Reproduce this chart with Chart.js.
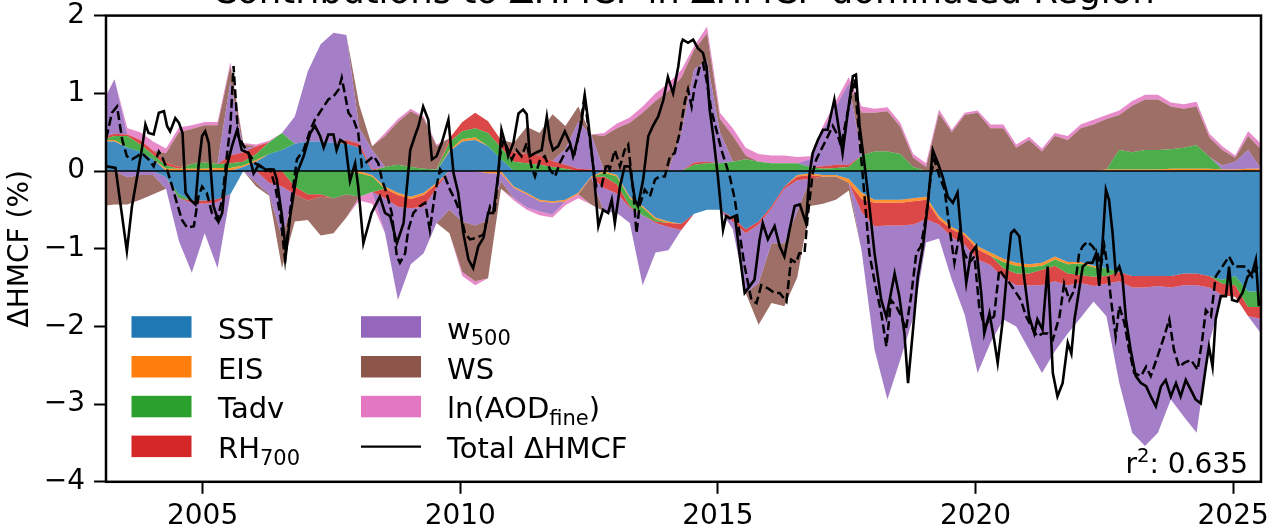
<!DOCTYPE html>
<html>
<head>
<meta charset="utf-8">
<script src="https://cdn.jsdelivr.net/npm/chart.js@4.4.1/dist/chart.umd.min.js"></script>
<style>
  html, body { margin: 0; padding: 0; background: #fff; }
</style>
</head>
<body>
<canvas id="hmcf" width="1272" height="532"></canvas>
<script>
// contributions, quarterly steps from 2003.04 to 2025.54 (decimal years)
const areaYears = Array.from({ length: 91 }, (_, k) => +(2003.04 + 0.25 * k).toFixed(2));

const sst = [0.38,0.38,0.30,0.25,0.15,-0.08,-0.30,-0.38,-0.38,-0.36,
  -0.30,0.05,0.12,0.22,0.27,0.35,0.38,0.38,0.36,0.35,
  0.30,-0.05,-0.20,-0.28,-0.33,-0.28,-0.15,0.25,0.38,0.40,
  0.32,0.15,-0.20,-0.28,-0.37,-0.39,-0.37,-0.28,-0.07,0.00,
  -0.05,-0.33,-0.45,-0.60,-0.65,-0.68,-0.55,-0.50,-0.50,-0.60,
  -0.75,-0.65,-0.45,-0.20,-0.05,-0.03,-0.05,-0.05,-0.10,-0.28,
  -0.37,-0.37,-0.37,-0.35,-0.33,-0.58,-0.72,-0.80,-0.97,-1.05,
  -1.13,-1.18,-1.20,-1.18,-1.10,-1.17,-1.17,-1.22,-1.25,-1.30,
  -1.35,-1.35,-1.35,-1.35,-1.32,-1.32,-1.35,-1.40,-1.35,-1.55,
  -1.55];
const eis = [0.02,0.02,0,0,0,0.03,0.03,0.03,0.03,0.04,
  0.04,0.02,0.02,0,0,0,0,0,0,0,
  -0.03,-0.02,-0.03,-0.03,-0.03,-0.03,-0.02,0.02,0.03,0.03,
  -0.03,-0.03,-0.02,-0.02,-0.02,-0.02,-0.02,-0.02,-0.01,-0.02,
  -0.02,-0.02,-0.02,-0.02,-0.02,0,0,0,0,0,
  0,0,0,0,-0.02,-0.02,-0.02,-0.02,-0.05,-0.08,
  -0.04,-0.04,-0.04,-0.04,-0.04,-0.04,-0.03,-0.03,-0.04,-0.04,
  -0.04,-0.04,-0.04,-0.04,-0.04,-0.03,-0.02,-0.02,0.02,0.02,
  0.02,0.02,0.02,0.03,0.03,0.03,0.03,0.02,0.02,0.03,
  0.03];
const tadv = [0,0.05,0.15,0.09,0.06,0.04,-0.05,0.06,0.08,0.05,
  0.06,0.05,0.08,0.15,0.22,-0.20,-0.30,-0.30,-0.35,-0.30,
  -0.30,-0.20,0.05,0.08,0.05,0.03,0.02,0.10,0.10,0.12,
  0.17,0.15,0.12,0.10,0.08,0.05,0.03,0,0,-0.05,
  -0.10,-0.10,-0.10,-0.03,0,0,0.08,0.10,0.10,0.12,
  0.15,0.12,0.10,0.10,0.10,0.05,0.03,0.04,0.05,0.20,
  0.25,0.25,0.22,0.05,0,0,0,0,0,0,
  -0.08,-0.10,-0.08,-0.05,-0.08,-0.12,-0.15,-0.12,-0.10,0.25,
  0.22,0.25,0.25,0.25,0.27,0.30,0.15,-0.05,-0.12,-0.20,
  -0.20];
const rh700 = [0.03,0.03,0.02,0.06,0.05,0.04,0.02,-0.03,-0.04,-0.04,
  0.10,0.12,0.10,-0.15,-0.20,-0.10,-0.08,-0.03,0,0.05,
  0.05,0.02,-0.12,-0.15,-0.12,-0.15,-0.05,0.05,0.12,0.20,
  0.15,0.10,0.12,0.12,0.12,0.08,0.05,0.03,0.02,-0.15,
  -0.12,-0.02,0,-0.02,-0.05,-0.08,0.03,0.02,0,-0.05,
  -0.05,-0.04,-0.03,-0.03,-0.05,-0.05,0.03,0.04,0.03,-0.17,
  -0.30,-0.29,-0.29,-0.30,-0.25,-0.07,-0.10,-0.12,-0.13,-0.12,
  -0.12,-0.15,-0.15,-0.20,-0.20,-0.15,-0.10,-0.12,-0.10,-0.12,
  -0.15,-0.15,-0.13,-0.15,-0.15,-0.15,-0.15,-0.15,-0.15,-0.12,
  -0.15];
const w500 = [0.42,0.70,-0.08,-0.05,-0.05,-0.15,-0.55,-0.90,-0.38,-0.85,
  0.95,0.05,-0.15,-0.15,-0.65,0.35,0.90,1.25,1.42,1.35,
  0.20,0.25,-0.45,-1.20,-0.72,-0.60,-0.45,-0.50,-0.65,-0.70,
  -0.60,-0.10,-0.13,-0.17,-0.13,-0.15,0.20,0.60,0.45,-0.30,
  -0.25,-0.20,-0.90,-0.38,-0.30,0.50,1.20,1.30,0.40,-0.10,
  -0.77,-0.75,-0.45,-0.70,-0.40,0.10,0.47,0.75,1.05,-0.50,
  -1.59,-2.24,-1.73,-1.20,-0.30,-0.18,-0.55,-0.90,-1.46,-1.00,
  -0.54,-0.53,-0.83,-1.13,-0.90,-0.62,-0.45,-0.20,-0.42,-1.31,
  -1.87,-2.04,-1.89,-1.44,-1.69,-1.90,-0.70,0.05,0.10,0.24,
  -0.19];
const ws = [-0.45,-0.43,-0.35,-0.32,-0.25,0.12,0.45,0.45,0.48,0.50,
  0.20,0.05,-0.05,-0.02,-0.40,-0.35,-0.25,-0.50,-0.45,-0.30,
  0.30,0.05,0.40,0.55,0.72,0.65,0.30,-0.30,-0.65,-0.72,
  -0.75,-0.10,0.12,0.35,0.29,0.60,0.30,0.20,-0.35,0.45,
  0.55,0.62,0.75,0.90,1.03,0.70,0.25,0.35,0.17,0.33,
  0.05,-0.54,-0.77,-0.81,-0.85,-0.35,-0.35,-0.30,-0.10,0.55,
  0.50,0.52,0.35,0.12,0.05,0.74,0.50,0.72,0.75,0.55,
  0.55,0.30,0.40,0.25,0.45,0.40,0.55,0.60,0.65,0.45,
  0.60,0.65,0.65,0.55,0.50,0.50,0.25,0.20,0.05,0.18,
  0.25];
const aodFine = [0.02,0,0.08,0.10,0.12,0.06,0.06,0.05,0.04,0.04,
  0.05,0.02,0.02,0.02,0,0,0,0,0,0,
  -0.05,-0.15,0.04,0.04,0.03,0.02,0.02,0,-0.05,-0.05,
  0,0,-0.03,-0.03,-0.05,-0.04,-0.05,-0.05,0,0.04,
  0.06,0.07,0.08,0.10,0.10,0.10,0.05,0.09,0.08,0.10,
  0.10,0.10,0.10,0.10,0.08,0.04,0.05,0.07,0.08,0.08,
  0.05,0.05,0.05,0.05,0.05,0.05,0.03,0.03,0.03,0.05,
  0.05,0.04,0.04,0.04,0.04,0.05,0.05,0.06,0.05,0.06,
  0.06,0.06,0.06,0.05,0.06,0.06,0.05,0.05,0.03,0.06,
  0.07];

// observed total (solid line)
const totalYears = [2003.13,2003.31,2003.53,2003.63,2003.73,2003.83,2003.89,2003.95,2004.05,2004.15,
  2004.25,2004.31,2004.37,2004.47,2004.54,2004.61,2004.67,2004.76,2004.86,2004.92,
  2004.99,2005.05,2005.12,2005.21,2005.31,2005.38,2005.47,2005.57,2005.67,2005.76,
  2005.89,2005.99,2006.09,2006.22,2006.38,2006.44,2006.54,2006.62,2006.70,2006.83,
  2006.96,2007.09,2007.18,2007.28,2007.35,2007.44,2007.54,2007.60,2007.67,2007.77,
  2007.86,2007.96,2008.02,2008.12,2008.28,2008.44,2008.54,2008.64,2008.77,2008.90,
  2009.03,2009.12,2009.19,2009.28,2009.38,2009.45,2009.54,2009.64,2009.77,2009.87,
  2009.96,2010.06,2010.16,2010.25,2010.35,2010.45,2010.54,2010.64,2010.74,2010.80,
  2010.87,2010.93,2011.03,2011.13,2011.22,2011.29,2011.35,2011.45,2011.58,2011.68,
  2011.74,2011.80,2011.90,2012.03,2012.13,2012.19,2012.26,2012.35,2012.42,2012.48,
  2012.58,2012.68,2012.77,2012.87,2012.94,2013.00,2013.10,2013.19,2013.29,2013.39,
  2013.45,2013.55,2013.65,2013.74,2013.84,2013.94,2014.03,2014.13,2014.23,2014.29,
  2014.32,2014.42,2014.52,2014.61,2014.71,2014.78,2014.84,2014.91,2015.00,2015.10,
  2015.16,2015.23,2015.33,2015.42,2015.52,2015.62,2015.71,2015.81,2015.87,2015.97,
  2016.10,2016.20,2016.29,2016.39,2016.49,2016.59,2016.71,2016.78,2016.84,2016.94,
  2017.04,2017.13,2017.26,2017.36,2017.42,2017.52,2017.62,2017.68,2017.75,2017.85,
  2017.94,2018.04,2018.17,2018.27,2018.43,2018.52,2018.62,2018.69,2018.78,2018.88,
  2018.98,2019.07,2019.17,2019.27,2019.36,2019.46,2019.56,2019.65,2019.72,2019.82,
  2019.91,2020.01,2020.11,2020.17,2020.27,2020.36,2020.43,2020.53,2020.62,2020.69,
  2020.75,2020.85,2020.95,2021.04,2021.14,2021.20,2021.30,2021.40,2021.50,2021.59,
  2021.69,2021.79,2021.86,2021.92,2021.98,2022.08,2022.17,2022.27,2022.34,2022.40,
  2022.47,2022.53,2022.59,2022.66,2022.72,2022.79,2022.85,2022.92,2023.01,2023.11,
  2023.21,2023.31,2023.40,2023.50,2023.60,2023.69,2023.79,2023.89,2023.98,2024.08,
  2024.18,2024.27,2024.37,2024.47,2024.53,2024.60,2024.66,2024.76,2024.86,2024.92,
  2024.98,2025.08,2025.18,2025.28,2025.37,2025.44,2025.50];
const totalValues = [0.06,0.04,-1.03,-0.45,-0.07,0.32,0.60,0.49,0.47,0.75,
  0.77,0.58,0.51,0.68,0.62,0.49,-0.28,-0.37,-0.43,0.06,
  0.45,0.51,0.36,-0.45,-0.65,-0.54,0.06,0.32,0.53,0.27,
  0.23,-0.03,0.08,0.02,0.02,-0.11,-0.58,-1.05,-0.58,-0.03,
  0.19,0.49,0.58,0.45,0.30,0.47,0.47,0.27,0.40,0.36,
  -0.13,0.10,-0.20,-0.93,-0.54,-0.33,-0.54,-0.58,-0.93,-0.67,
  0.27,0.45,0.58,0.83,0.66,0.15,0.19,0.36,0.66,-0.03,
  -0.28,-0.80,-1.14,-1.25,-0.97,-0.86,-0.54,-0.54,-0.03,0.53,
  0.36,0.19,0.36,0.74,0.79,0.73,0.19,0.23,0.27,0.70,
  0.40,0.27,0.32,0.51,0.36,0.19,0.36,0.61,0.96,0.66,
  0.06,-0.71,-0.50,-0.54,-0.37,-0.67,-0.20,0.06,0.06,-0.37,
  -0.45,-0.11,0.45,0.58,0.70,0.91,1.21,1.00,1.34,1.64,
  1.69,1.65,1.69,1.58,1.52,1.34,0.79,0.45,-0.07,-0.76,
  -0.58,-0.61,-0.58,-1.06,-1.57,-1.48,-1.40,-0.88,-0.67,-0.88,
  -0.71,-0.97,-1.10,-0.76,-0.45,-0.43,-0.67,-0.03,0.23,0.40,
  0.53,0.53,0.92,0.49,0.23,0.75,1.22,1.24,0.58,0.06,
  -0.45,-1.06,-1.66,-1.88,-1.32,-1.61,-2.09,-2.73,-2.09,-1.36,
  -0.97,-0.45,0.27,0.10,-0.07,-0.33,-0.41,-0.28,-0.80,-1.44,
  -1.06,-0.97,-1.57,-2.09,-1.83,-2.17,-2.47,-1.91,-1.23,-0.80,
  -0.76,-0.84,-1.40,-1.87,-2.09,-1.91,-2.04,-1.23,-2.60,-2.90,
  -2.73,-2.21,-2.35,-1.91,-1.66,-1.23,-1.18,-1.18,-1.06,-1.48,
  -0.88,-0.24,-0.37,-0.80,-1.31,-1.23,-1.36,-1.91,-2.30,-2.64,
  -2.73,-2.77,-2.90,-3.03,-2.77,-2.69,-2.90,-2.73,-2.90,-2.69,
  -2.82,-2.94,-2.99,-2.52,-2.26,-2.52,-1.91,-1.61,-1.61,-1.23,
  -1.66,-1.68,-1.57,-1.36,-1.31,-1.14,-1.74];

// sum of the contributions (dashed line)
const sumYears = [2003.13,2003.24,2003.34,2003.44,2003.53,2003.63,2003.73,2003.82,2003.95,2004.05,
  2004.15,2004.21,2004.31,2004.41,2004.50,2004.60,2004.70,2004.83,2004.92,2004.99,
  2005.08,2005.18,2005.28,2005.38,2005.47,2005.54,2005.60,2005.69,2005.80,2005.89,
  2006.02,2006.12,2006.22,2006.31,2006.41,2006.51,2006.60,2006.70,2006.83,2006.96,
  2007.09,2007.18,2007.31,2007.44,2007.54,2007.64,2007.70,2007.77,2007.83,2007.93,
  2008.02,2008.09,2008.19,2008.32,2008.41,2008.48,2008.57,2008.67,2008.77,2008.83,
  2008.93,2008.99,2009.09,2009.22,2009.32,2009.41,2009.51,2009.61,2009.70,2009.80,
  2009.90,2010.00,2010.09,2010.19,2010.32,2010.45,2010.58,2010.67,2010.77,2010.84,
  2010.90,2011.00,2011.09,2011.19,2011.29,2011.38,2011.45,2011.55,2011.64,2011.74,
  2011.84,2011.93,2012.03,2012.13,2012.22,2012.32,2012.41,2012.48,2012.58,2012.64,
  2012.74,2012.84,2012.90,2013.00,2013.10,2013.19,2013.26,2013.36,2013.42,2013.48,
  2013.58,2013.68,2013.78,2013.87,2013.97,2014.07,2014.16,2014.26,2014.36,2014.42,
  2014.49,2014.55,2014.65,2014.71,2014.78,2014.87,2014.97,2015.07,2015.23,2015.33,
  2015.42,2015.52,2015.65,2015.75,2015.84,2015.97,2016.10,2016.20,2016.33,2016.42,
  2016.52,2016.58,2016.68,2016.75,2016.84,2016.91,2017.00,2017.10,2017.23,2017.33,
  2017.39,2017.49,2017.59,2017.65,2017.75,2017.84,2017.94,2018.04,2018.17,2018.27,
  2018.36,2018.46,2018.56,2018.65,2018.75,2018.85,2018.94,2019.04,2019.14,2019.20,
  2019.30,2019.40,2019.49,2019.59,2019.69,2019.78,2019.88,2019.98,2020.07,2020.17,
  2020.27,2020.36,2020.46,2020.56,2020.66,2020.75,2020.88,2020.98,2021.08,2021.20,
  2021.30,2021.40,2021.50,2021.63,2021.72,2021.82,2021.92,2022.01,2022.08,2022.17,
  2022.27,2022.37,2022.43,2022.50,2022.56,2022.63,2022.72,2022.79,2022.89,2022.98,
  2023.08,2023.21,2023.31,2023.40,2023.53,2023.66,2023.76,2023.85,2023.95,2024.05,
  2024.18,2024.31,2024.40,2024.47,2024.57,2024.66,2024.79,2024.92,2025.02,2025.11,
  2025.24,2025.37,2025.47];
const sumValues = [0.42,0.75,0.83,0.40,0.19,0.15,0.19,0.23,0.15,0.06,
  0.25,0.19,0.02,-0.20,-0.41,-0.63,-0.73,-0.71,-0.33,-0.20,
  -0.28,-0.54,-0.63,-0.37,0.19,0.58,1.35,0.45,0.32,0.23,
  0.10,0.06,0.00,0.02,-0.20,-0.58,-1.14,-0.50,0.15,0.27,
  0.53,0.66,0.79,0.92,0.96,1.05,1.20,0.96,0.75,0.66,
  0.49,0.06,0.12,0.19,0.10,-0.11,-0.28,-0.54,-1.10,-1.18,
  -1.06,-0.76,-0.54,-0.45,-0.41,-0.76,-0.28,0.02,-0.07,-0.24,
  -0.37,-0.54,-0.80,-0.88,-0.86,-0.82,-0.45,-0.50,0.19,0.40,
  0.32,0.15,0.27,0.19,0.36,0.06,-0.07,0.15,0.19,0.02,
  -0.07,0.10,0.23,0.32,0.23,0.53,0.96,0.58,0.06,-0.20,
  -0.20,0.10,0.02,0.27,0.06,0.27,0.34,-0.28,-0.80,-0.45,
  -0.24,-0.33,-0.11,-0.07,-0.07,0.19,0.23,0.49,0.90,1.05,
  0.83,1.09,1.35,1.39,1.17,0.79,0.53,0.27,-0.07,-0.37,
  -0.80,-1.23,-1.66,-1.70,-1.47,-1.51,-1.57,-1.57,-1.68,-1.14,
  -1.18,-1.06,-1.06,-0.54,-0.03,0.15,0.27,0.40,0.58,0.45,
  0.32,0.66,1.00,1.18,0.40,-0.28,-1.06,-1.42,-1.83,-2.26,
  -1.66,-1.74,-1.87,-2.04,-1.61,-1.06,-0.97,-0.58,-0.03,0.15,
  -0.07,-0.24,-0.71,-1.18,-0.80,-1.06,-1.18,-1.10,-1.74,-2.00,
  -1.92,-1.87,-1.27,-1.36,-1.44,-1.53,-1.66,-1.87,-2.00,-2.13,
  -2.09,-2.09,-2.17,-1.87,-1.45,-1.66,-1.53,-1.06,-0.97,-0.91,
  -0.97,-1.06,-1.23,-0.97,-1.23,-1.66,-2.13,-1.74,-1.96,-2.30,
  -2.60,-2.64,-2.52,-2.64,-2.39,-2.13,-1.91,-2.30,-2.52,-2.47,
  -2.43,-2.56,-2.17,-1.79,-1.87,-1.36,-1.23,-1.10,-1.23,-1.23,
  -1.23,-1.36,-1.23];

const xTickYears = [2005, 2010, 2015, 2020, 2025];
const r2 = 0.635;

const FONT = "'DejaVu Sans', sans-serif";

const components = [
  { name: 'SST', values: sst, color: '#1f77b4', parts: [['SST']] },
  { name: 'EIS', values: eis, color: '#ff7f0e', parts: [['EIS']] },
  { name: 'Tadv', values: tadv, color: '#2ca02c', parts: [['Tadv']] },
  { name: 'RH700', values: rh700, color: '#d62728', parts: [['RH'], ['700', 1]] },
  { name: 'w500', values: w500, color: '#9467bd', parts: [['w'], ['500', 1]] },
  { name: 'WS', values: ws, color: '#8c564b', parts: [['WS']] },
  { name: 'ln(AODfine)', values: aodFine, color: '#e377c2', parts: [['ln(AOD'], ['fine', 1], [')']] },
];

function fade(hex, a) {
  const n = parseInt(hex.slice(1), 16);
  return `rgba(${n >> 16}, ${(n >> 8) & 255}, ${n & 255}, ${a})`;
}

// positive and negative parts are stacked away from zero separately
function layer(c, i, sign) {
  return {
    label: c.name + (sign > 0 ? ' +' : ' -'),
    data: areaYears.map((t, k) => ({ x: t, y: sign > 0 ? Math.max(c.values[k], 0) : Math.min(c.values[k], 0) })),
    stack: sign > 0 ? 'pos' : 'neg',
    fill: i === 0 ? 'origin' : '-1',
    backgroundColor: fade(c.color, 0.85),
    borderColor: 'rgba(0,0,0,0)',
    borderWidth: 0,
    pointRadius: 0,
  };
}

const datasets = [
  {
    label: 'Total ΔHMCF',
    data: totalYears.map((t, i) => ({ x: t, y: totalValues[i] })),
    stack: 'total', borderColor: '#000', borderWidth: 2.6, pointRadius: 0, fill: false,
  },
  {
    label: 'Sum of contributions',
    data: sumYears.map((t, i) => ({ x: t, y: sumValues[i] })),
    stack: 'sum', borderColor: '#000', borderWidth: 2.5, borderDash: [9, 4], pointRadius: 0, fill: false,
  },
  ...components.map((c, i) => layer(c, i, 1)),
  ...components.map((c, i) => layer(c, i, -1)),
];

function drawParts(ctx, parts, x, y) {
  for (const [txt, sub] of parts) {
    ctx.font = sub ? `21px ${FONT}` : `29px ${FONT}`;
    ctx.fillText(txt, x, sub ? y + 6.5 : y);
    x += ctx.measureText(txt).width;
  }
}

const decor = {
  id: 'decor',
  afterDatasetDraw(chart, args) {
    if (args.index !== 2) return; // zero line above the areas, under the two lines
    const { ctx, chartArea: a, scales: { y } } = chart;
    const y0 = y.getPixelForValue(0);
    ctx.save();
    ctx.strokeStyle = '#000';
    ctx.lineWidth = 1.3;
    ctx.beginPath();
    ctx.moveTo(a.left, y0);
    ctx.lineTo(a.right, y0);
    ctx.stroke();
    ctx.restore();
  },
  afterDraw(chart) {
    const { ctx, chartArea: a } = chart;
    ctx.save();
    ctx.strokeStyle = '#000';
    ctx.lineWidth = 2.5;
    ctx.strokeRect(a.left, a.top, a.right - a.left, a.bottom - a.top);

    ctx.fillStyle = '#000';
    ctx.textBaseline = 'alphabetic';
    ctx.textAlign = 'center';
    ctx.font = `35.5px ${FONT}`;
    ctx.fillText('Contributions to ΔHMCF in ΔHMCF-dominated Region', (a.left + a.right) / 2, 2.5);

    // legend, two columns
    ctx.textAlign = 'left';
    const colX = [131.5, 361], textX = [218, 447], rowGap = 39.8, top = 338.7;
    components.forEach((c, i) => {
      const col = i < 4 ? 0 : 1, row = i < 4 ? i : i - 4;
      const base = top + rowGap * row;
      ctx.fillStyle = c.color;
      ctx.fillRect(colX[col], base - 22.5, 60, 21.5);
      ctx.fillStyle = '#000';
      drawParts(ctx, c.parts, textX[col], base);
    });
    const base = top + rowGap * 3;
    ctx.lineWidth = 2.2;
    ctx.beginPath();
    ctx.moveTo(colX[1], base - 11.5);
    ctx.lineTo(colX[1] + 60, base - 11.5);
    ctx.stroke();
    drawParts(ctx, [['Total ΔHMCF']], textX[1], base);

    // r² note
    ctx.font = `28px ${FONT}`;
    const rest = ': ' + r2.toFixed(3);
    const wr = ctx.measureText('r').width, wrest = ctx.measureText(rest).width;
    ctx.font = `19.6px ${FONT}`;
    const w2 = ctx.measureText('2').width;
    const x = 1248 - wr - w2 - wrest;
    ctx.font = `28px ${FONT}`;
    ctx.fillText('r', x, 473);
    ctx.font = `19.6px ${FONT}`;
    ctx.fillText('2', x + wr, 462);
    ctx.font = `28px ${FONT}`;
    ctx.fillText(rest, x + wr + w2, 473);
    ctx.restore();
  },
};

Chart.defaults.color = '#000';
Chart.defaults.font.family = FONT;

new Chart(document.getElementById('hmcf'), {
  type: 'line',
  data: { datasets },
  options: {
    responsive: false,
    animation: false,
    events: [],
    layout: { padding: { top: 15.6, right: 11, left: 0, bottom: 0 } },
    plugins: { legend: { display: false }, tooltip: { enabled: false } },
    scales: {
      x: {
        type: 'linear',
        min: 2003.125,
        max: 2025.54,
        afterBuildTicks: (s) => { s.ticks = xTickYears.map((v) => ({ value: v })); },
        afterFit: (s) => { s.height = 50.2; s.paddingLeft = 0; s.paddingRight = 0; },
        ticks: { callback: (v) => String(v), font: { size: 28 }, padding: 6, maxRotation: 0, autoSkip: false },
        grid: { drawOnChartArea: false, drawTicks: true, tickLength: 12, tickWidth: 2, tickColor: '#000' },
        border: { display: false },
      },
      y: {
        type: 'linear',
        stacked: true,
        min: -4,
        max: 2,
        afterFit: (s) => { s.width = 106; s.paddingTop = 0; s.paddingBottom = 0; },
        ticks: {
          stepSize: 1,
          font: { size: 28 },
          padding: 9,
          callback: (v) => (v < 0 ? '\u2212' + Math.abs(v) : String(v)),
        },
        grid: { drawOnChartArea: false, drawTicks: true, tickLength: 12, tickWidth: 2, tickColor: '#000' },
        border: { display: false },
        title: { display: true, text: 'ΔHMCF (%)', font: { size: 28 }, padding: { top: 4, bottom: 0 } },
      },
    },
  },
  plugins: [decor],
});
</script>
</body>
</html>
